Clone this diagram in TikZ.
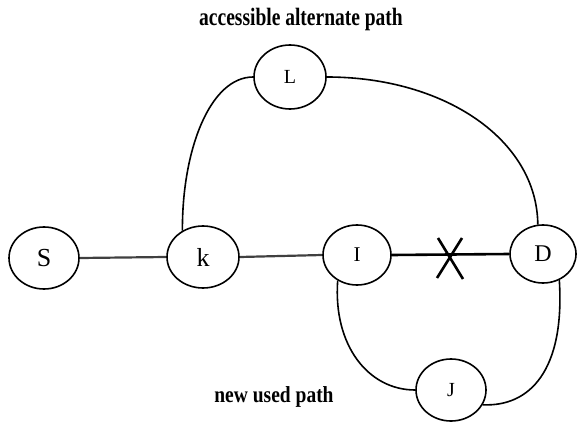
\documentclass[tikz,border=0pt]{standalone}
\usepackage{fontspec}
\setmainfont{Liberation Serif}
\usetikzlibrary{shapes.geometric}
\begin{document}
\begin{tikzpicture}[x=1pt,y=-1pt,
  nd/.style={draw=black, line width=1.6pt, ellipse, inner sep=0pt, fill=white},
  link/.style={line width=1.6pt, black},
  hlink/.style={line width=2.2pt, black!75},
  cut/.style={line width=2.6pt, black},
  lbl/.style={font=\fontsize{19.5}{22}\selectfont\bfseries, inner sep=0pt, anchor=base}]
\useasboundingbox (0,0) rectangle (577,422);
% nodes
\node[nd, minimum width=70pt, minimum height=62pt, font=\fontsize{26}{28}\selectfont] (S) at (44,258) {S};
\node[nd, minimum width=72pt, minimum height=62pt, font=\fontsize{26}{28}\selectfont] (k) at (203,257) {k};
\node[nd, minimum width=68pt, minimum height=60pt, font=\fontsize{21}{24}\selectfont] (I) at (357,255) {I};
\node[nd, minimum width=66pt, minimum height=58pt, font=\fontsize{24}{26}\selectfont] (D) at (543,254) {D};
\node[nd, minimum width=72pt, minimum height=64pt, font=\fontsize{20}{22}\selectfont] (L) at (290,77) {L};
\node[nd, minimum width=70pt, minimum height=62pt, font=\fontsize{20}{22}\selectfont] (J) at (451,390) {J};
% labels
\node[lbl] (t1) at (301,26) {\scalebox{1}[1.28]{accessible alternate path}};
\node[lbl] (t2) at (274,402) {\scalebox{1}[1.18]{new used path}};
% straight links
\draw[hlink] (S.east) -- (k.west);
\draw[hlink] (k.east) -- (I.west);
\draw[cut] (I.east) -- (D.west);
% cross mark
\coordinate (xa) at (438,238);
\coordinate (xb) at (463,279);
\coordinate (xc) at (462,238);
\coordinate (xd) at (437,278);
\draw[cut] (xa) -- (xb);
\draw[cut] (xc) -- (xd);
% curved links
\draw[link] (k.128) .. controls (182,150) and (210,77) .. (L.west);
\draw[link] (L.east) .. controls (445,77) and (537,140) .. (D.100);
\draw[link] (I.233) .. controls (333,345) and (368,390) .. (J.west);
\draw[link] (D.302) .. controls (565,370) and (530,407) .. (J.335);
\end{tikzpicture}
\end{document}
